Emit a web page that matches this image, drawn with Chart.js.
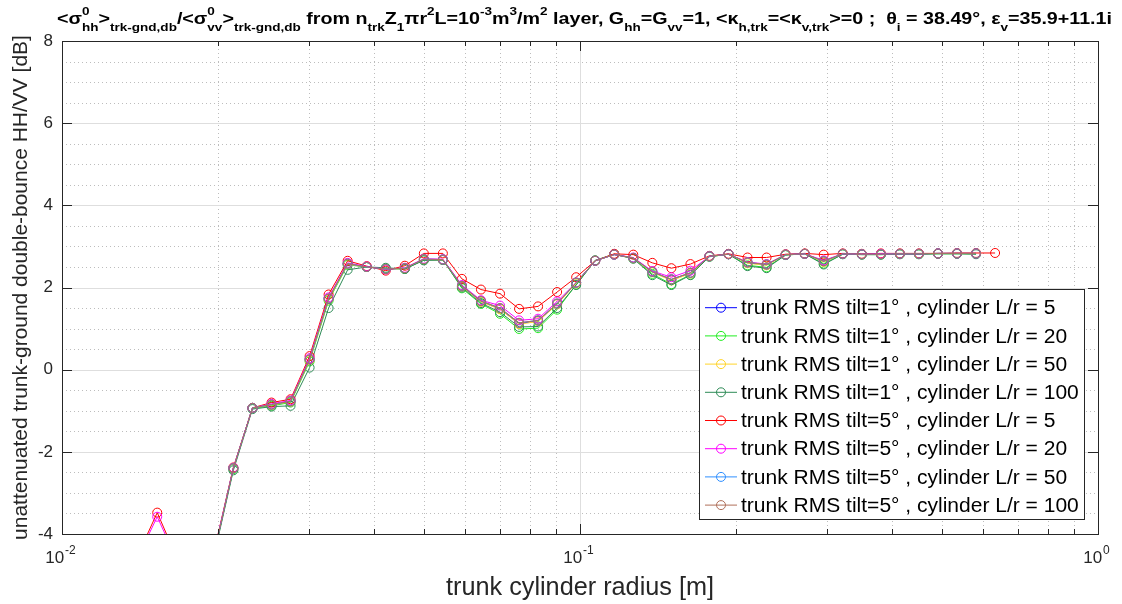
<!DOCTYPE html>
<html>
<head>
<meta charset="utf-8">
<script src="https://cdn.jsdelivr.net/npm/chart.js@4.4.0/dist/chart.umd.min.js"></script>
<style>
  html, body { margin: 0; padding: 0; background: #fff; }
</style>
</head>
<body>
<canvas id="chart" width="1122" height="604"></canvas>
<script>
// trunk cylinder radius [m] (log spaced samples)
const radius = [0.01000, 0.01088, 0.01184, 0.01289, 0.01403, 0.01527, 0.01662, 0.01809, 0.01968, 0.02142,
                0.02332, 0.02538, 0.02762, 0.03006, 0.03271, 0.03560, 0.03875, 0.04217, 0.04590, 0.04995,
                0.05436, 0.05916, 0.06439, 0.07008, 0.07627, 0.08300, 0.09033, 0.09831, 0.10700, 0.11645,
                0.12673, 0.13793, 0.15011, 0.16337, 0.17780, 0.19350, 0.21059, 0.22919, 0.24944, 0.27147,
                0.29545, 0.32155, 0.34995, 0.38086, 0.41450, 0.45111, 0.49096, 0.53432, 0.58152, 0.63288];

// HH/VV ratio [dB] per series
const tilt1_L5 = [-6.4,-5.9,-5.4,-4.9,-4.6,-4.25,-4.7,-5.3,-4.45,
  -2.4,-0.93,-0.86,-0.78,0.24,1.72,2.57,2.5,2.45,2.46,
  2.68,2.67,2.03,1.66,1.48,1.12,1.19,1.6,2.11,2.65,
  2.8,2.72,2.38,2.19,2.35,2.76,2.81,2.6,2.55,2.8,
  2.82,2.63,2.82,2.81,2.81,2.82,2.82,2.83,2.83,2.83,null];
const tilt1_L20 = [-6.4,-5.9,-5.4,-4.9,-4.6,-4.26,-4.7,-5.3,-4.46,
  -2.42,-0.94,-0.88,-0.8,0.2,1.68,2.55,2.5,2.46,2.45,
  2.67,2.68,1.98,1.6,1.36,0.99,1.01,1.46,2.07,2.66,
  2.81,2.71,2.33,2.08,2.31,2.75,2.81,2.54,2.49,2.79,
  2.82,2.58,2.81,2.8,2.8,2.81,2.81,2.82,2.82,2.82,null];
const tilt1_L50 = [-6.4,-5.9,-5.4,-4.9,-4.6,-4.25,-4.7,-5.3,-4.45,
  -2.4,-0.93,-0.86,-0.78,0.23,1.71,2.57,2.5,2.45,2.46,
  2.68,2.67,2.02,1.65,1.47,1.11,1.17,1.59,2.1,2.65,
  2.8,2.71,2.37,2.17,2.34,2.76,2.81,2.59,2.54,2.8,
  2.82,2.62,2.82,2.81,2.81,2.82,2.82,2.83,2.83,2.83,null];
const tilt1_L100 = [-6.5,-6,-5.5,-5,-4.65,-4.3,-4.75,-5.35,-4.5,
  -2.45,-0.96,-0.9,-0.88,0.05,1.5,2.43,2.5,2.48,2.45,
  2.66,2.67,2.0,1.62,1.4,1.04,1.05,1.5,2.06,2.66,
  2.81,2.7,2.3,2.06,2.3,2.75,2.81,2.52,2.47,2.79,
  2.82,2.56,2.81,2.8,2.8,2.81,2.81,2.82,2.82,2.81,null];
const tilt5_L5 = [-6.2,-5.7,-5.2,-4.8,-4.5,-3.48,-4.55,-5.2,-4.4,
  -2.38,-0.93,-0.8,-0.72,0.33,1.83,2.65,2.52,2.41,2.53,
  2.83,2.83,2.21,1.95,1.85,1.48,1.54,1.89,2.25,2.65,
  2.82,2.8,2.6,2.47,2.57,2.77,2.82,2.73,2.73,2.81,
  2.83,2.8,2.83,2.82,2.83,2.83,2.83,2.83,2.84,2.84,2.84];
const tilt5_L20 = [-6.3,-5.8,-5.3,-4.85,-4.55,-3.58,-4.6,-5.25,-4.42,
  -2.39,-0.93,-0.83,-0.75,0.28,1.76,2.6,2.51,2.44,2.48,
  2.7,2.69,2.06,1.69,1.56,1.2,1.24,1.66,2.12,2.65,
  2.8,2.73,2.4,2.25,2.41,2.76,2.81,2.62,2.57,2.8,
  2.82,2.66,2.82,2.81,2.82,2.82,2.82,2.83,2.83,2.83,null];
const tilt5_L50 = [-6.4,-5.9,-5.4,-4.9,-4.6,-4.25,-4.7,-5.3,-4.45,
  -2.4,-0.93,-0.85,-0.77,0.25,1.73,2.58,2.5,2.45,2.47,
  2.69,2.68,2.04,1.67,1.5,1.14,1.2,1.61,2.12,2.65,
  2.8,2.72,2.38,2.2,2.36,2.76,2.81,2.61,2.56,2.8,
  2.82,2.64,2.82,2.81,2.81,2.82,2.82,2.83,2.83,2.83,null];
const tilt5_L100 = [-6.4,-5.9,-5.4,-4.9,-4.6,-4.25,-4.7,-5.3,-4.45,
  -2.4,-0.93,-0.85,-0.77,0.25,1.73,2.58,2.5,2.45,2.47,
  2.69,2.68,2.04,1.67,1.5,1.14,1.2,1.61,2.12,2.65,
  2.8,2.72,2.38,2.2,2.36,2.76,2.81,2.61,2.56,2.8,
  2.82,2.64,2.82,2.81,2.81,2.82,2.82,2.83,2.83,2.83,null];

const seriesLabels = [
  'trunk RMS tilt=1° , cylinder L/r = 5',
  'trunk RMS tilt=1° , cylinder L/r = 20',
  'trunk RMS tilt=1° , cylinder L/r = 50',
  'trunk RMS tilt=1° , cylinder L/r = 100',
  'trunk RMS tilt=5° , cylinder L/r = 5',
  'trunk RMS tilt=5° , cylinder L/r = 20',
  'trunk RMS tilt=5° , cylinder L/r = 50',
  'trunk RMS tilt=5° , cylinder L/r = 100'
];
const seriesValues = [tilt1_L5, tilt1_L20, tilt1_L50, tilt1_L100, tilt5_L5, tilt5_L20, tilt5_L50, tilt5_L100];
const seriesColors = ['#0000ff', '#22ee22', '#ffd42a', '#2e8b57', '#ff0000', '#ff00ff', '#2f8fff', '#b0705a'];

// axis ticks
const xMajorTicks = [0.01, 0.1, 1];
const xTickExponents = ['-2', '-1', '0'];
const xMinorTicks = [0.02, 0.03, 0.04, 0.05, 0.06, 0.07, 0.08, 0.09, 0.2, 0.3, 0.4, 0.5, 0.6, 0.7, 0.8, 0.9];
const yMajorTicks = [-4, -2, 0, 2, 4, 6, 8];
const yMinorTicks = [-3.5, -3, -2.5, -1.5, -1, -0.5, 0.5, 1, 1.5, 2.5, 3, 3.5, 4.5, 5, 5.5, 6.5, 7, 7.5];

const titleParts = [
  {t: '<σ'}, {sup: '0', sub: 'hh'}, {t: '>'}, {sub: 'trk-gnd,db'},
  {t: '/<σ'}, {sup: '0', sub: 'vv'}, {t: '>'}, {sub: 'trk-gnd,db'},
  {t: ' from n'}, {sub: 'trk'}, {t: 'Z'}, {sub: '1'}, {t: 'πr'}, {sup: '2'},
  {t: 'L=10'}, {sup: '-3'}, {t: 'm'}, {sup: '3'}, {t: '/m'}, {sup: '2'},
  {t: ' layer, G'}, {sub: 'hh'}, {t: '=G'}, {sub: 'vv'}, {t: '=1, <κ'}, {sub: 'h,trk'},
  {t: '=<κ'}, {sub: 'v,trk'}, {t: '>=0 ;  θ'}, {sub: 'i'}, {t: ' = 38.49°, ε'}, {sub: 'v'},
  {t: '=35.9+11.1i'}
];

const AXIS = '#262626';
const FONT = '"Liberation Sans", Arial, sans-serif';

function hline(ctx, x1, x2, y) { ctx.beginPath(); ctx.moveTo(x1, y); ctx.lineTo(x2, y); ctx.stroke(); }
function vline(ctx, x, y1, y2) { ctx.beginPath(); ctx.moveTo(x, y1); ctx.lineTo(x, y2); ctx.stroke(); }
const crisp = v => Math.round(v) + 0.5;

function drawTitle(ctx) {
  const big = 'bold 16px "Liberation Sans Narrow", ' + FONT;
  const small = 'bold 11px "Liberation Sans Narrow", ' + FONT;
  const w = p => {
    if (p.t) { ctx.font = big; return ctx.measureText(p.t).width; }
    ctx.font = small;
    return Math.max(p.sup ? ctx.measureText(p.sup).width : 0, p.sub ? ctx.measureText(p.sub).width : 0);
  };
  ctx.save();
  ctx.textAlign = 'left';
  ctx.textBaseline = 'alphabetic';
  const total = titleParts.reduce((s, p) => s + w(p), 0);
  ctx.translate(57, 0);
  ctx.scale(1055 / total, 1);
  ctx.fillStyle = '#000';
  let x = 0;
  titleParts.forEach(p => {
    const pw = w(p);
    if (p.t) { ctx.font = big; ctx.fillText(p.t, x, 24); }
    else {
      ctx.font = small;
      if (p.sup) ctx.fillText(p.sup, x, 15);
      if (p.sub) ctx.fillText(p.sub, x, 31);
    }
    x += pw;
  });
  ctx.restore();
}

const matlabLook = {
  id: 'matlabLook',
  beforeDatasetsDraw(chart) {
    const {ctx, chartArea: a, scales: {x, y}} = chart;
    ctx.save();
    ctx.lineWidth = 1;
    ctx.strokeStyle = '#bdbdbd';
    ctx.setLineDash([1, 3]);
    xMinorTicks.forEach(v => vline(ctx, crisp(x.getPixelForValue(v)), a.top, a.bottom));
    yMinorTicks.forEach(v => hline(ctx, a.left, a.right, crisp(y.getPixelForValue(v))));
    ctx.setLineDash([]);
    ctx.strokeStyle = '#dedede';
    xMajorTicks.slice(1, -1).forEach(v => vline(ctx, crisp(x.getPixelForValue(v)), a.top, a.bottom));
    yMajorTicks.slice(1, -1).forEach(v => hline(ctx, a.left, a.right, crisp(y.getPixelForValue(v))));
    ctx.restore();
  },
  afterDatasetsDraw(chart) {
    const {ctx, chartArea: a, scales: {x, y}} = chart;
    ctx.save();
    // axes box and inward ticks
    ctx.strokeStyle = AXIS;
    ctx.lineWidth = 1;
    ctx.strokeRect(crisp(a.left), crisp(a.top), Math.round(a.right - a.left), Math.round(a.bottom - a.top));
    xMajorTicks.forEach(v => {
      const px = crisp(x.getPixelForValue(v));
      vline(ctx, px, a.bottom, a.bottom - 10);
      vline(ctx, px, a.top, a.top + 10);
    });
    xMinorTicks.forEach(v => {
      const px = crisp(x.getPixelForValue(v));
      vline(ctx, px, a.bottom, a.bottom - 5);
      vline(ctx, px, a.top, a.top + 5);
    });
    yMajorTicks.forEach(v => {
      const py = crisp(y.getPixelForValue(v));
      hline(ctx, a.left, a.left + 10, py);
      hline(ctx, a.right, a.right - 10, py);
    });

    // x tick labels: 10^n
    ctx.fillStyle = AXIS;
    ctx.textAlign = 'left';
    ctx.textBaseline = 'alphabetic';
    xMajorTicks.forEach((v, i) => {
      ctx.font = '17px ' + FONT;
      const bw = ctx.measureText('10').width;
      ctx.font = '12px ' + FONT;
      const ew = ctx.measureText(xTickExponents[i]).width;
      const left = x.getPixelForValue(v) - 2 - (bw + ew) / 2;
      ctx.font = '17px ' + FONT;
      ctx.fillText('10', left, 563);
      ctx.font = '12px ' + FONT;
      ctx.fillText(xTickExponents[i], left + bw + 1, 554);
    });

    // axis titles
    ctx.textAlign = 'center';
    ctx.textBaseline = 'middle';
    const xTitle = 'trunk cylinder radius [m]';
    ctx.font = '22px ' + FONT;
    let tw = ctx.measureText(xTitle).width;
    ctx.font = (22 * 268 / tw).toFixed(2) + 'px ' + FONT;
    ctx.fillText(xTitle, (a.left + a.right) / 2, 588);

    const yTitle = 'unattenuated trunk-ground double-bounce HH/VV [dB]';
    ctx.font = '18px ' + FONT;
    tw = ctx.measureText(yTitle).width;
    ctx.save();
    ctx.translate(21, (a.top + a.bottom) / 2);
    ctx.rotate(-Math.PI / 2);
    ctx.font = (18 * 505 / tw).toFixed(2) + 'px ' + FONT;
    ctx.fillText(yTitle, 0, 0);
    ctx.restore();

    drawTitle(ctx);

    // legend
    const lx = 699, ly = 289, lw = 385, lh = 230;
    ctx.fillStyle = '#fff';
    ctx.fillRect(lx, ly, lw, lh);
    ctx.strokeStyle = AXIS;
    ctx.strokeRect(lx + 0.5, ly + 0.5, lw, lh);
    ctx.font = '20px ' + FONT;
    const longest = Math.max(...seriesLabels.map(s => ctx.measureText(s).width));
    ctx.font = (20 * 338 / longest).toFixed(2) + 'px ' + FONT;
    ctx.textAlign = 'left';
    chart.data.datasets.forEach((ds, i) => {
      const ry = 307.7 + i * 28.2;
      ctx.strokeStyle = ds.borderColor;
      ctx.lineWidth = 1;
      hline(ctx, 705, 737, ry);
      ctx.beginPath();
      ctx.arc(721, ry, 4.5, 0, Math.PI * 2);
      ctx.stroke();
      ctx.fillStyle = '#000';
      ctx.fillText(ds.label, 741, ry + 1);
    });
    ctx.restore();
  }
};

const datasets = seriesValues.map((vals, i) => ({
  label: seriesLabels[i],
  data: radius.map((r, k) => ({x: r, y: vals[k]})),
  borderColor: seriesColors[i],
  pointBorderColor: seriesColors[i],
  backgroundColor: 'transparent',
  pointBackgroundColor: 'rgba(0,0,0,0)',
  borderWidth: 1,
  pointRadius: 4.5,
  pointBorderWidth: 1,
  tension: 0,
  spanGaps: false,
  order: 7 - i
}));

new Chart(document.getElementById('chart'), {
  type: 'line',
  data: { datasets: datasets },
  plugins: [matlabLook],
  options: {
    responsive: false,
    devicePixelRatio: 1,
    animation: false,
    layout: { padding: { left: 0, top: 41, right: 24, bottom: 70 } },
    plugins: { legend: { display: false }, tooltip: { enabled: false }, title: { display: false } },
    scales: {
      x: {
        type: 'logarithmic',
        min: 0.01,
        max: 1,
        display: false
      },
      y: {
        type: 'linear',
        min: -4,
        max: 8,
        grid: { display: false, drawTicks: false },
        border: { display: false },
        ticks: {
          stepSize: 2,
          autoSkip: false,
          padding: 9,
          color: AXIS,
          font: { family: 'Liberation Sans', size: 17 }
        },
        afterFit(scale) { scale.width = 62; }
      }
    }
  }
});
</script>
</body>
</html>
